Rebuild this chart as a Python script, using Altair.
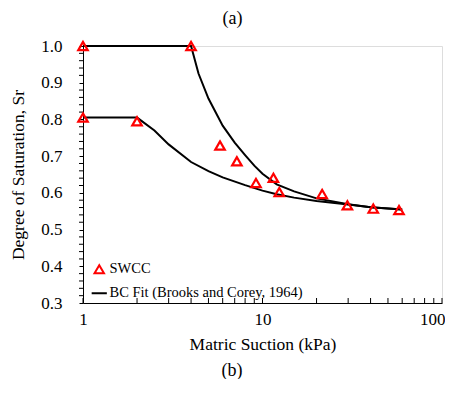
import altair as alt
import pandas as pd

# SWCC measured points
swcc_x = [1, 4, 1, 2, 5.8, 7.2, 9.2, 11.5, 12.4, 21.5, 29.7, 41.4, 57.6]
swcc_y = [1.0, 1.0, 0.805, 0.795, 0.729, 0.686, 0.627, 0.641, 0.602, 0.597, 0.566, 0.557, 0.553]

# BC fit curves
fit1_x = [1, 4, 4.4, 5, 6, 7, 8, 9, 10, 12, 15, 20, 30, 40, 60]
fit1_y = [1.0, 1.0, 0.925, 0.857, 0.783, 0.737, 0.703, 0.674, 0.652, 0.623, 0.604, 0.585, 0.569, 0.561, 0.555]
fit2_x = [1, 2, 2.5, 3, 4, 5, 6, 8, 10, 12, 15, 20, 30, 40, 60]
fit2_y = [0.805, 0.805, 0.770, 0.732, 0.684, 0.659, 0.642, 0.621, 0.606, 0.596, 0.587, 0.578, 0.568, 0.561, 0.555]

x_ticks = [1, 10, 100]
x_minor = [1, 2, 3, 4, 5, 6, 7, 8, 9, 10, 20, 30, 40, 50, 60, 70, 80, 90, 100]
y_major = [0.3, 0.4, 0.5, 0.6, 0.7, 0.8, 0.9, 1.0]
y_minor = [0.32, 0.34, 0.36, 0.38, 0.42, 0.44, 0.46, 0.48, 0.52, 0.54, 0.56, 0.58,
           0.62, 0.64, 0.66, 0.68, 0.72, 0.74, 0.76, 0.78, 0.82, 0.84, 0.86, 0.88,
           0.92, 0.94, 0.96, 0.98]

S1 = "SWCC"
S2 = "BC Fit (Brooks and Corey, 1964)"

pts = pd.DataFrame({"x": swcc_x, "y": swcc_y, "series": S1})
fit = pd.concat([
    pd.DataFrame({"x": fit1_x, "y": fit1_y, "curve": "a", "series": S2}),
    pd.DataFrame({"x": fit2_x, "y": fit2_y, "curve": "b", "series": S2}),
])
xticks_df = pd.DataFrame({"x": x_minor})
yticks_df = pd.DataFrame({"y": y_minor})

FONT = "Liberation Serif, Times New Roman, serif"
W, H = 359, 257

xscale = alt.Scale(type="log", domain=[1, 100])
yscale = alt.Scale(domain=[0.3, 1.0], nice=False, zero=False)
legend_kw = dict(title=None, orient="none", legendX=9, legendY=216,
                 labelFont=FONT, labelFontSize=14.5, labelColor="black", labelLimit=0,
                 symbolSize=90, symbolStrokeWidth=2, rowPadding=7,
                 labelOffset=3, symbolFillColor="transparent")
color = alt.Color("series:N", scale=alt.Scale(domain=[S1, S2], range=["#ff0000", "#000000"]),
                  legend=alt.Legend(**legend_kw))
shape = alt.Shape("series:N", scale=alt.Scale(domain=[S1, S2], range=["triangle-up", "M-1.6,0H1.6"]),
                  legend=alt.Legend(**legend_kw))

xaxis = alt.Axis(values=x_ticks, format="d", ticks=False, tickSize=0, grid=False,
                 labelFont=FONT, labelFontSize=17, labelColor="black", labelPadding=8,
                 labelAlign={"condition": {"test": "datum.value >= 100", "value": "right"}, "value": "center"},
                 labelOffset={"condition": {"test": "datum.value >= 100", "value": 3}, "value": 0},
                 title="Matric Suction (kPa)", titleFont=FONT, titleFontSize=17.5,
                 titleFontWeight="normal", titleColor="black", titlePadding=8,
                 domainColor="black", labelFlush=False, labelOverlap=False)
yaxis = alt.Axis(values=y_major, format=".1f",
                 ticks=True, tickSize=4, tickColor="black", tickWidth=1, grid=False,
                 labelOverlap=False,
                 labelFont=FONT, labelFontSize=17, labelColor="black", labelPadding=17,
                 title="Degree of Saturation, Sr", titleFont=FONT, titleFontSize=17.5,
                 titleFontWeight="normal", titleColor="black", titlePadding=13,
                 domainColor="black")

X = alt.X("x:Q", scale=xscale, axis=xaxis)
Y = alt.Y("y:Q", scale=yscale, axis=yaxis)

lines = alt.Chart(fit).mark_line(strokeWidth=2).encode(
    x=X, y=Y, color=color, detail="curve:N",
)
points = alt.Chart(pts).mark_point(filled=False, size=90, strokeWidth=2.2, opacity=1).encode(
    x=X, y=Y, color=color, shape=shape,
)
xtickmarks = alt.Chart(xticks_df).mark_rule(color="black", strokeWidth=1).encode(
    x=X,
    y=alt.value(H),
    y2=alt.value(H - 5),
)
ytickmarks = alt.Chart(yticks_df).mark_rule(color="black", strokeWidth=1).encode(
    y=Y,
    x=alt.value(-4),
    x2=alt.value(0),
)
caption = alt.Chart(pd.DataFrame({"t": ["(b)"]})).mark_text(
    font=FONT, fontSize=18, baseline="middle", align="center", color="black"
).encode(text="t:N", x=alt.value(149), y=alt.value(325))

chart = alt.layer(xtickmarks, ytickmarks, lines, points, caption).properties(
    width=W, height=H,
    title=alt.TitleParams("(a)", font=FONT, fontSize=18, fontWeight="normal", color="black",
                          anchor="middle", dx=-30, offset=9),
    autosize=alt.AutoSizeParams(type="none"),
    padding={"left": 75, "top": 38, "right": 3, "bottom": 76},
).configure_view(stroke="black", strokeWidth=1.2).configure(background="white")

chart.save("out.html", embed_options={"renderer": "svg", "actions": False})
